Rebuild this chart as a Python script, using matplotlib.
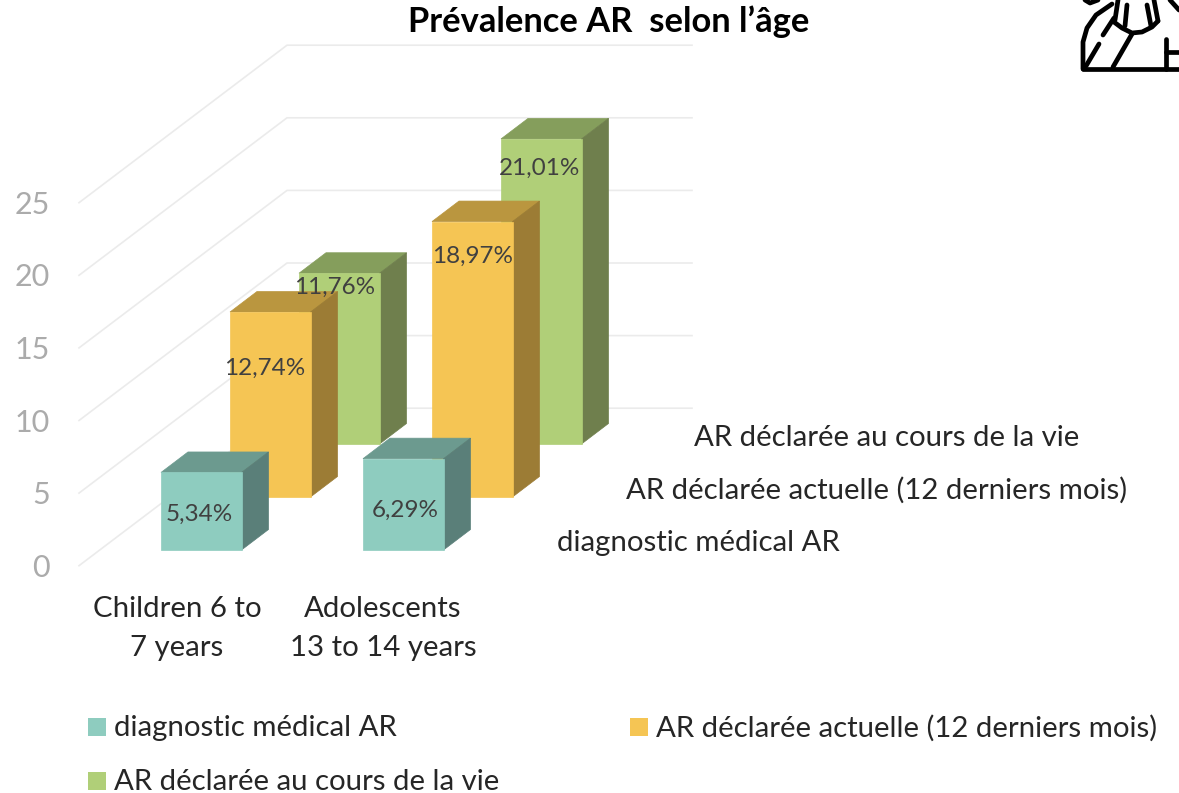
import numpy as np
import matplotlib
matplotlib.use("Agg")
import matplotlib.pyplot as plt
from matplotlib.patches import Polygon, Rectangle

plt.rcParams['font.family'] = ['Lato', 'DejaVu Sans']

series_names = ["diagnostic médical AR", "AR déclarée actuelle (12 derniers mois)", "AR déclarée au cours de la vie"]
categories = ["Children 6 to\n7 years", "Adolescents\n13 to 14 years"]
diagnostic = [5.34, 6.29]
actuelle = [12.74, 18.97]
vie = [11.76, 21.01]
value_labels = [["5,34%", "6,29%"], ["12,74%", "18,97%"], ["11,76%", "21,01%"]]
y_ticks = [0, 5, 10, 15, 20, 25]

front = [("#8ECCBF", "#6C9A8F", "#5A7F79"),
         ("#F5C554", "#BA963F", "#9C7C35"),
         ("#B0CF78", "#859E5C", "#6F7F4D")]

W, H = 1179, 793
PX_PER_UNIT = 14.52
ZERO_PX = 565.7
TXT = 21.2

fig = plt.figure(figsize=(W / 100, H / 100), dpi=100)
# value axes: x in pixels, y in chart units
ax = fig.add_axes([0, 0, 1, 1])
ax.set_xlim(0, W)
ax.set_ylim((ZERO_PX - H) / PX_PER_UNIT, ZERO_PX / PX_PER_UNIT)
ax.axis("off")
# overlay in pixels for the text and the icon
pix = fig.add_axes([0, 0, 1, 1], zorder=5)
pix.set_xlim(0, W)
pix.set_ylim(H, 0)
pix.axis("off")
pix.patch.set_alpha(0)

# gridlines on the wall and floor
wall_dx, wall_dy = 208, 157.5 / PX_PER_UNIT
for t in y_ticks:
    ax.plot([79, 79 + wall_dx, 692], [t, t + wall_dy, t + wall_dy], color="#EBEBEB", lw=1.2, zorder=1)
    pix.text(50, ZERO_PX + 2 - t * PX_PER_UNIT, str(t), ha="right", va="center", color="#ABABAB", fontsize=22)

bar_w, side_dx, side_dy = 80.5, 27, 20.5 / PX_PER_UNIT
cat_step, ser_dx, ser_dy = 202, 69, 53 / PX_PER_UNIT
x0, base0 = 161, 15.7 / PX_PER_UNIT


def draw_bar(x, base, value, cols):
    top = base + value
    z = 2
    ax.add_patch(Polygon([(x, top), (x + side_dx, top + side_dy), (x + bar_w + side_dx, top + side_dy), (x + bar_w, top)],
                         fc=cols[1], ec=cols[1], lw=0.5, zorder=z))
    ax.add_patch(Polygon([(x + bar_w, base), (x + bar_w + side_dx, base + side_dy), (x + bar_w + side_dx, top + side_dy), (x + bar_w, top)],
                         fc=cols[2], ec=cols[2], lw=0.5, zorder=z))
    ax.add_patch(Rectangle((x, base), bar_w, value, fc=cols[0], ec=cols[0], lw=0.5, zorder=z))


all_series = [diagnostic, actuelle, vie]
for i in [2, 1, 0]:
    for j in range(len(categories)):
        draw_bar(x0 + j * cat_step + i * ser_dx, base0 + i * ser_dy, all_series[i][j], front[i])

label_pos = [[(199, 514), (405, 510)], [(265, 368), (473, 256)], [(335, 287), (540, 168)]]
for i in range(3):
    for j in range(2):
        px, py = label_pos[i][j]
        pix.text(px, py, value_labels[i][j], ha="center", va="center", color="#404040", fontsize=17.5)

# depth axis labels
depth_pos = [(557, 543), (626, 490), (694, 438)]
for name, (px, py) in zip(series_names, depth_pos):
    pix.text(px, py, name, ha="left", va="center", color="#262626", fontsize=TXT)

# category labels
cat_x = [177, 383]
for lab, cx in zip(categories, cat_x):
    a, b = lab.split("\n")
    pix.text(cx, 609, a, ha="center", va="center", color="#262626", fontsize=TXT)
    pix.text(cx, 648, b, ha="center", va="center", color="#262626", fontsize=TXT)

# legend
leg_pos = [(88, 727), (630, 727), (88, 781)]
for i, (px, py) in enumerate(leg_pos):
    pix.add_patch(Rectangle((px, py - 9), 18, 18, fc=front[i][0], ec="none"))
    pix.text(px + 26, py + 1, series_names[i], ha="left", va="center", color="#262626", fontsize=TXT)

pix.text(609, 22, "Prévalence AR  selon l’âge", ha="center", va="center", color="black", fontsize=24.8, fontweight="bold")

# icon top right
icon_lines = [
    [(1083, 69), (1179, 69)],
    [(1083, 69), (1083, 42), (1087, 28), (1096, 15), (1112, 4)],
    [(1086, 66), (1099, 44)],
    [(1103, 35), (1114, 18)],
    [(1114, 22), (1122, 28), (1132, 33), (1142, 32), (1152, 27), (1158, 21)],
    [(1127, 5), (1125, 26)],
    [(1147, 5), (1151, 26)],
    [(1118, 0), (1115, 20)],
    [(1154, 0), (1158, 21)],
    [(1132, 34), (1113, 67)],
    [(1166, 39), (1166, 69)],
    [(1166, 52), (1179, 52)],
    [(1085, 0), (1090, 3), (1098, 0)],
    [(1170, 0), (1179, 10)],
]
for seg in icon_lines:
    xs, ys = zip(*seg)
    pix.plot(xs, ys, color="black", lw=3.4, solid_capstyle="round")

fig.savefig("out.png", dpi=100)
